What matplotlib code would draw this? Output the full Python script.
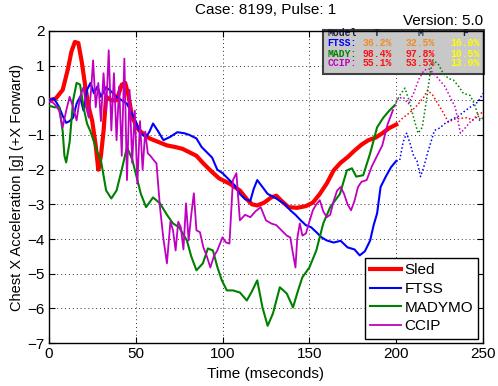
import numpy as np
import matplotlib
matplotlib.use("Agg")
import matplotlib.pyplot as plt
import matplotlib.patches as patches

plt.rcParams['font.family'] = ['Liberation Sans', 'DejaVu Sans']

# ---- data (time in ms, accel in g) ----
sled_t = [0, 4, 8, 11, 13, 15, 17, 19, 21, 23, 25, 27, 28.5, 30, 31.5, 33, 36, 39, 42, 44,
          46, 48, 52, 58, 63, 68, 73, 77, 81, 85, 89, 93, 98, 104, 110, 114, 117, 120, 124, 128,
          131, 134, 138, 143, 148, 152, 156, 160, 164, 168, 172, 176, 180, 184, 188, 192, 196, 200, 204, 208,
          212, 216, 218, 221, 224, 227, 230, 233, 237, 241, 244, 247, 250]
sled_g = [0, 0.05, 0.3, 0.9, 1.4, 1.68, 1.65, 1.1, 0.4, -0.2, -0.6, -1.3, -2.0, -1.6, -0.9, 0.1, 0.0, 0.0, 0.45, 0.5,
          0.1, -0.5, -0.87, -1.1, -1.2, -1.3, -1.35, -1.4, -1.5, -1.6, -1.82, -2.02, -2.25, -2.4, -2.6, -2.85, -3.0, -3.03, -2.95, -2.8,
          -2.75, -2.9, -3.08, -3.1, -3.05, -2.95, -2.7, -2.4, -2.02, -1.8, -1.64, -1.45, -1.28, -1.15, -1.08, -0.95, -0.8, -0.7, -0.5, -0.35,
          -0.15, 0.1, 0.29, 0.15, -0.1, -0.35, -0.63, -0.55, -0.52, -0.5, -0.58, -0.4, -0.35]

ftss_t = [0, 3, 6, 8, 10, 12, 14, 16, 18, 20, 22, 24, 26, 28, 30, 33, 36, 39, 42, 45,
          47, 50, 52, 54, 56, 58, 60, 63, 66, 70, 74, 78, 81, 85, 88, 91, 94, 97, 100, 104,
          107, 110, 113, 116, 118, 120, 123, 126, 130, 133, 136, 139, 142, 145, 148, 151, 154, 157, 160, 164,
          168, 172, 176, 179, 182, 185, 187, 189, 191, 194, 197, 200, 202, 204, 206, 208, 210, 212, 214, 216,
          218, 220, 222, 225, 228, 232, 236, 240, 244, 247, 250]
ftss_g = [0, 0.05, -0.2, -0.45, -0.65, -0.6, -0.5, -0.1, 0.1, -0.3, 0.3, 0.5, 0.2, 0.4, 0.1, 0.38, 0.25, 0.1, 0.0, -0.1,
          -0.3, -0.6, -0.87, -1.0, -1.06, -0.9, -0.67, -0.9, -1.15, -1.05, -0.92, -0.95, -1.0, -1.1, -1.35, -1.5, -1.65, -2.0, -2.1, -2.3,
          -2.45, -2.7, -2.85, -2.9, -2.55, -2.3, -2.5, -2.7, -2.8, -2.9, -3.0, -3.17, -3.3, -3.46, -3.6, -3.66, -3.8, -3.95, -4.04, -4.1,
          -4.05, -4.24, -4.3, -4.47, -4.35, -4.04, -3.6, -3.26, -2.5, -2.2, -1.93, -1.75, -1.73, -1.2, -0.95, -1.25, -1.6, -1.75, -2.2, -1.9,
          -1.53, -1.2, -0.87, -0.8, -0.67, -0.55, -0.45, -0.29, -0.15, -0.05, 0.2]

mady_t = [0, 3, 6, 8, 9, 10, 12, 14, 16, 18, 20, 22, 24, 26, 28, 30, 33, 36, 39, 42,
          45, 48, 50, 53, 56, 60, 64, 68, 71.5, 75, 79.5, 82, 85, 88.7, 91.6, 94.5, 97, 99.6, 102.5, 106,
          110, 114, 117, 120, 123, 126, 129, 133, 137, 140.6, 143.5, 146, 150, 154, 158, 162, 167.6, 171.6, 174.5, 177,
          181, 185, 189, 192.6, 196, 199, 202, 205, 208, 210, 212.6, 215, 218, 219.5, 221, 224, 227, 230, 233, 236,
          238.6, 242.5, 245, 248, 250]
mady_g = [-0.15, -0.2, -0.2, -0.9, -1.6, -1.79, -1.2, 0.0, 0.5, 0.45, -0.2, -0.67, -0.9, -1.2, -1.5, -1.73, -2.6, -2.83, -2.6, -2.0,
          -1.35, -1.7, -2.1, -2.7, -3.08, -2.8, -2.97, -3.3, -3.55, -3.66, -4.04, -4.5, -4.9, -4.7, -4.27, -4.33, -4.8, -5.19, -5.48, -5.48,
          -5.54, -5.77, -5.5, -5.19, -5.97, -6.5, -6.15, -5.39, -5.57, -5.97, -5.48, -5.1, -4.82, -4.33, -3.55, -3.08, -2.7, -2.02, -1.96, -2.2,
          -2.16, -1.53, -0.78, -0.5, -0.3, -0.15, 0.14, 0.35, -0.1, -0.5, -0.95, -0.78, 0.2, 0.78, 1.15, 1.06, 0.78, 0.63, 0.58, 0.4,
          0.2, 0.14, -0.1, -0.58, -0.5]

ccip_t = [0, 2, 4, 6, 8, 10, 12, 14, 16, 18, 20, 21.5, 23, 24.5, 25.5, 27, 28.5, 30, 31.5, 33,
          34.5, 36, 37.5, 39, 40.5, 42, 43.5, 45, 46.5, 48, 49.5, 51, 52.5, 54, 55.5, 57, 58.5, 60, 62, 64,
          66, 68, 70, 71.5, 73, 74.5, 76, 77.5, 79, 80.5, 82, 83.5, 85, 87, 89, 91, 93, 95, 97, 100,
          102, 104, 106, 108, 110, 113, 116, 119, 122, 125, 128, 131, 134, 137, 139, 140.5, 142, 143, 144.5, 146,
          148, 150, 152, 154, 156, 158, 160, 162, 164, 166, 168, 170, 172, 174, 176, 178, 180, 183, 186, 189,
          192, 195, 198, 201, 204, 207, 210, 213, 216, 219, 222, 225, 228, 231, 234, 237, 240, 243, 246, 250]
ccip_g = [-0.05, -0.05, -0.15, -0.3, -0.78, -0.3, 0.1, -0.2, -0.58, 0.1, 0.38, -0.2, -0.5, 0.4, 1.15, -0.2, 0.5, -0.6, 0.78, -0.3,
          1.44, -0.87, 0.78, -1.15, 0.4, -1.6, 1.2, -2.3, 0.3, -1.8, -0.3, -2.4, -0.6, -2.0, -0.9, -1.53, -1.6, -1.7, -1.82, -3.08,
          -4.0, -4.7, -3.5, -3.75, -4.33, -3.5, -3.66, -4.3, -2.97, -4.04, -3.3, -2.68, -3.75, -3.8, -4.24, -4.5, -4.82, -4.5, -4.33, -3.95,
          -4.1, -4.13, -2.3, -2.1, -3.46, -3.3, -3.37, -3.2, -3.08, -3.46, -3.55, -3.6, -3.75, -3.9, -3.95, -4.4, -4.82, -4.0, -3.55, -3.9,
          -3.84, -3.5, -3.17, -3.0, -2.88, -3.2, -3.37, -3.3, -2.9, -2.6, -2.5, -2.7, -3.0, -3.17, -2.9, -2.5, -2.35, -2.3, -1.9, -1.6,
          -1.3, -0.7, -0.3, 0.05, 0.09, -0.1, 0.2, 0.6, 0.87, 0.9, 0.75, 0.58, 0.4, 0.1, -0.2, -0.95, -0.78, -0.6, -0.5, -0.55]

series_names = ["Sled", "FTSS", "MADYMO", "CCIP"]
series_colors = ["#ff0000", "#0000ff", "#008000", "#c000c0"]
series_widths = [3.0, 1.5, 1.5, 1.3]
t_cut = 200  # measured data ends here, rest drawn dotted

# rating table shown in the corner box
table_models = ["FTSS:", "MADY:", "CCIP:"]
table_cols = ["T", "M", "F"]
table_T = ["36.2%", "98.4%", "55.1%"]
table_M = ["32.5%", "97.8%", "53.5%"]
table_F = ["16.0%", "10.5%", "13.0%"]
table_T_col = ["#f08c28", "#ff1010", "#ff1010"]
table_M_col = ["#f08c28", "#ff1010", "#ff1010"]
table_F_col = ["#ffff00", "#ffff00", "#ffff00"]
table_row_col = ["#0000ff", "#008000", "#c000c0"]

fig = plt.figure(figsize=(4.98, 3.86), dpi=100)
ax = fig.add_axes([0.098, 0.111, 0.872, 0.809])

all_t = [sled_t, ftss_t, mady_t, ccip_t]
all_g = [sled_g, ftss_g, mady_g, ccip_g]
for name, t, g, c, lw in zip(series_names, all_t, all_g, series_colors, series_widths):
    t = np.array(t)
    g = np.array(g)
    solid = t <= t_cut
    dotted = t >= t_cut - 2
    ax.plot(t[solid], g[solid], color=c, lw=lw, label=name, zorder=3)
    ax.plot(t[dotted], g[dotted], color=c, lw=1.1, ls=(0, (1, 1.5)), zorder=3)

ax.set_xlim(0, 250)
ax.set_ylim(-7, 2)
ax.set_xticks(np.arange(0, 251, 50))
ax.set_yticks(np.arange(-7, 3, 1))
ax.grid(True, ls=(0, (1, 3)), color='#303030', lw=0.7)
ax.set_axisbelow(True)
ax.tick_params(direction='in', top=True, right=True, length=4, width=0.8,
               labelsize=11, pad=3)
for s in ax.spines.values():
    s.set_linewidth(1.0)

ax.set_xlabel("Time (mseconds)", fontsize=11)
ax.set_ylabel("Chest X Acceleration [g] (+X Forward)", fontsize=10.5)
ax.xaxis.set_label_coords(0.5, -0.075)
ax.yaxis.set_label_coords(-0.058, 0.5)

fig.text(0.534, 0.975, "Case: 8199, Pulse: 1", ha='center', va='center', fontsize=11)
fig.text(0.970, 0.946, "Version: 5.0", ha='right', va='center', fontsize=11)

# grey rating box
box = patches.Rectangle((0.631, 0.862), 0.371, 0.141, transform=ax.transAxes,
                        facecolor='#c8c8c8', edgecolor='#404040', lw=1.5,
                        clip_on=False, zorder=1)
ax.add_patch(box)
mono = dict(family='Liberation Mono', fontweight='bold', fontsize=7,
            transform=ax.transAxes, va='center', zorder=2, clip_on=False)
col_x = [0.756, 0.855, 0.959]
row_y = [0.9625, 0.927, 0.896]
ax.text(0.641, 0.993, "Model", ha='left', color='#202040', **mono)
for x, h in zip(col_x, table_cols):
    ax.text(x, 0.993, h, ha='center', color='#202040', **mono)
for i in range(3):
    ax.text(0.641, row_y[i], table_models[i], ha='left', color=table_row_col[i], **mono)
    ax.text(col_x[0], row_y[i], table_T[i], ha='center', color=table_T_col[i], **mono)
    ax.text(col_x[1], row_y[i], table_M[i], ha='center', color=table_M_col[i], **mono)
    ax.text(col_x[2], row_y[i], table_F[i], ha='center', color=table_F_col[i], **mono)

leg = ax.legend(loc='lower right', fontsize=11, handlelength=2.0, handletextpad=0.25,
                labelspacing=0.3, borderpad=0.35, borderaxespad=0.3, fancybox=False,
                framealpha=1, edgecolor='black')
leg.get_frame().set_linewidth(1.0)
leg.set_zorder(5)

fig.savefig("out.png", dpi=100)
